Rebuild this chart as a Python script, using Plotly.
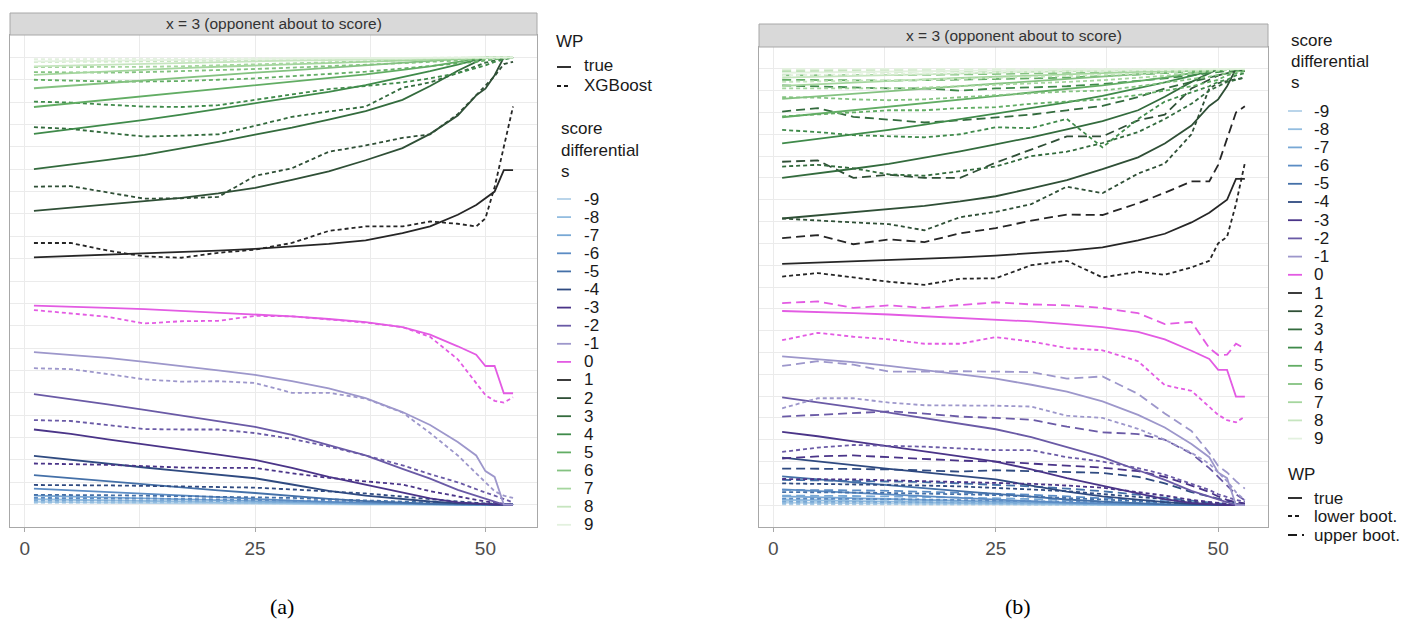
import plotly.graph_objects as go

W, H = 1416, 624

# ---------------- data ----------------
X = [1, 5, 9, 13, 17, 21, 25, 29, 33, 37, 41, 44, 47, 49, 50, 51, 52, 53]
SCORES = list(range(-9, 10))
X_TICKS = [0, 25, 50]
STRIP_TEXT = "x = 3 (opponent about to score)"

COLORS = {
    -9: "#b3d1e8", -8: "#93bde0", -7: "#78a8d5", -6: "#5b8cc4", -5: "#4470a8",
    -4: "#2f4a80", -3: "#4a3488", -2: "#6a5aa6", -1: "#9d97cb", 0: "#e35be3",
    1: "#262626", 2: "#2f4f36", 3: "#336b3d", 4: "#3f8a4a", 5: "#62ad64",
    6: "#84c281", 7: "#a5d69e", 8: "#c6e5bf", 9: "#e3f1df",
}

TRUE_WP = {
    9: [0.991, 0.992, 0.993, 0.994, 0.995, 0.996, 0.997, 0.997, 0.998, 0.998, 0.999, 0.999, 1.0, 1.0, 1.0, 1.0, 1.0, 1.0],
    8: [0.980, 0.982, 0.984, 0.986, 0.988, 0.990, 0.991, 0.993, 0.994, 0.995, 0.997, 0.998, 0.999, 1.0, 1.0, 1.0, 1.0, 1.0],
    7: [0.961, 0.965, 0.969, 0.972, 0.976, 0.979, 0.982, 0.985, 0.988, 0.990, 0.993, 0.995, 0.998, 1.0, 1.0, 1.0, 1.0, 1.0],
    6: [0.931, 0.937, 0.943, 0.949, 0.955, 0.960, 0.966, 0.971, 0.977, 0.982, 0.988, 0.992, 0.996, 0.999, 1.0, 1.0, 1.0, 1.0],
    5: [0.889, 0.897, 0.905, 0.913, 0.921, 0.929, 0.937, 0.945, 0.953, 0.962, 0.972, 0.980, 0.990, 0.997, 1.0, 1.0, 1.0, 1.0],
    4: [0.829, 0.839, 0.849, 0.860, 0.872, 0.885, 0.898, 0.910, 0.923, 0.938, 0.955, 0.969, 0.984, 0.995, 1.0, 1.0, 1.0, 1.0],
    3: [0.750, 0.760, 0.771, 0.782, 0.796, 0.811, 0.827, 0.843, 0.861, 0.880, 0.905, 0.936, 0.970, 0.990, 1.0, 1.0, 1.0, 1.0],
    2: [0.657, 0.664, 0.671, 0.678, 0.686, 0.696, 0.708, 0.726, 0.745, 0.770, 0.797, 0.829, 0.870, 0.915, 0.930, 0.960, 1.0, 1.0],
    1: [0.553, 0.556, 0.558, 0.561, 0.564, 0.568, 0.572, 0.577, 0.583, 0.591, 0.607, 0.622, 0.648, 0.670, 0.686, 0.700, 0.748, 0.748],
    0: [0.445, 0.443, 0.440, 0.437, 0.433, 0.430, 0.426, 0.421, 0.415, 0.408, 0.397, 0.380, 0.354, 0.335, 0.310, 0.310, 0.249, 0.249],
    -1: [0.341, 0.335, 0.328, 0.319, 0.310, 0.300, 0.290, 0.276, 0.260, 0.238, 0.207, 0.178, 0.140, 0.110, 0.075, 0.062, 0.0, 0.0],
    -2: [0.247, 0.236, 0.224, 0.212, 0.199, 0.187, 0.174, 0.156, 0.133, 0.110, 0.080, 0.058, 0.033, 0.020, 0.014, 0.007, 0.0, 0.0],
    -3: [0.168, 0.158, 0.146, 0.135, 0.124, 0.112, 0.100, 0.082, 0.062, 0.044, 0.027, 0.014, 0.005, 0.002, 0.0, 0.0, 0.0, 0.0],
    -4: [0.109, 0.100, 0.092, 0.083, 0.075, 0.067, 0.059, 0.045, 0.031, 0.020, 0.012, 0.007, 0.003, 0.001, 0.0, 0.0, 0.0, 0.0],
    -5: [0.066, 0.059, 0.052, 0.045, 0.038, 0.032, 0.026, 0.019, 0.013, 0.008, 0.004, 0.002, 0.001, 0.0, 0.0, 0.0, 0.0, 0.0],
    -6: [0.036, 0.032, 0.028, 0.024, 0.020, 0.017, 0.013, 0.009, 0.006, 0.004, 0.002, 0.001, 0.0, 0.0, 0.0, 0.0, 0.0, 0.0],
    -7: [0.020, 0.018, 0.016, 0.013, 0.011, 0.009, 0.007, 0.005, 0.003, 0.002, 0.001, 0.0, 0.0, 0.0, 0.0, 0.0, 0.0, 0.0],
    -8: [0.012, 0.011, 0.009, 0.008, 0.007, 0.005, 0.004, 0.003, 0.002, 0.001, 0.0, 0.0, 0.0, 0.0, 0.0, 0.0, 0.0, 0.0],
    -9: [0.006, 0.005, 0.005, 0.004, 0.003, 0.003, 0.002, 0.001, 0.001, 0.0, 0.0, 0.0, 0.0, 0.0, 0.0, 0.0, 0.0, 0.0],
}

XGB_WP = {
    9: [0.996, 0.996, 0.996, 0.997, 0.997, 0.997, 0.998, 0.998, 0.998, 0.999, 0.999, 0.999, 1.0, 1.0, 1.0, 1.0, 1.0, 1.0],
    8: [0.990, 0.990, 0.990, 0.991, 0.992, 0.993, 0.994, 0.995, 0.996, 0.997, 0.998, 0.998, 0.999, 1.0, 1.0, 1.0, 1.0, 1.0],
    7: [0.978, 0.978, 0.978, 0.979, 0.980, 0.982, 0.984, 0.986, 0.988, 0.990, 0.993, 0.995, 0.997, 0.998, 0.999, 1.0, 1.0, 1.0],
    6: [0.967, 0.966, 0.966, 0.967, 0.969, 0.971, 0.974, 0.977, 0.980, 0.983, 0.987, 0.990, 0.993, 0.995, 0.996, 0.997, 0.998, 0.999],
    5: [0.950, 0.948, 0.946, 0.946, 0.947, 0.950, 0.953, 0.958, 0.963, 0.968, 0.975, 0.980, 0.986, 0.990, 0.993, 0.996, 0.998, 1.0],
    4: [0.901, 0.899, 0.894, 0.890, 0.889, 0.893, 0.905, 0.917, 0.929, 0.936, 0.944, 0.953, 0.965, 0.976, 0.982, 0.990, 0.995, 1.0],
    3: [0.844, 0.840, 0.831, 0.823, 0.825, 0.828, 0.847, 0.867, 0.879, 0.890, 0.932, 0.944, 0.965, 0.980, 0.988, 0.993, 0.998, 1.0],
    2: [0.711, 0.712, 0.698, 0.684, 0.685, 0.688, 0.735, 0.752, 0.789, 0.803, 0.820, 0.828, 0.873, 0.915, 0.935, 0.958, 0.985, 0.990],
    1: [0.585, 0.585, 0.568, 0.555, 0.552, 0.563, 0.570, 0.585, 0.612, 0.622, 0.622, 0.633, 0.628, 0.622, 0.640, 0.710, 0.800, 0.890],
    0: [0.435, 0.428, 0.420, 0.405, 0.410, 0.411, 0.422, 0.421, 0.414, 0.407, 0.397, 0.375, 0.325, 0.270, 0.245, 0.232, 0.228, 0.240],
    -1: [0.305, 0.303, 0.292, 0.280, 0.275, 0.276, 0.272, 0.250, 0.250, 0.237, 0.206, 0.160, 0.110, 0.070, 0.048, 0.030, 0.020, 0.015],
    -2: [0.189, 0.187, 0.178, 0.169, 0.168, 0.168, 0.160, 0.147, 0.130, 0.110, 0.088, 0.068, 0.050, 0.034, 0.027, 0.020, 0.012, 0.005],
    -3: [0.092, 0.091, 0.089, 0.086, 0.083, 0.082, 0.082, 0.070, 0.060, 0.052, 0.045, 0.030, 0.018, 0.010, 0.007, 0.004, 0.002, 0.0],
    -4: [0.044, 0.044, 0.043, 0.042, 0.041, 0.040, 0.038, 0.034, 0.030, 0.025, 0.018, 0.012, 0.007, 0.004, 0.003, 0.002, 0.001, 0.0],
    -5: [0.022, 0.022, 0.021, 0.020, 0.019, 0.018, 0.017, 0.015, 0.012, 0.010, 0.007, 0.005, 0.003, 0.002, 0.001, 0.001, 0.0, 0.0],
    -6: [0.015, 0.015, 0.014, 0.014, 0.013, 0.012, 0.011, 0.010, 0.008, 0.006, 0.004, 0.003, 0.002, 0.001, 0.001, 0.0, 0.0, 0.0],
    -7: [0.010, 0.010, 0.010, 0.009, 0.009, 0.008, 0.007, 0.006, 0.005, 0.004, 0.003, 0.002, 0.001, 0.001, 0.0, 0.0, 0.0, 0.0],
    -8: [0.006, 0.006, 0.006, 0.006, 0.005, 0.005, 0.004, 0.004, 0.003, 0.002, 0.002, 0.001, 0.001, 0.0, 0.0, 0.0, 0.0, 0.0],
    -9: [0.004, 0.004, 0.004, 0.003, 0.003, 0.003, 0.003, 0.002, 0.002, 0.001, 0.001, 0.001, 0.0, 0.0, 0.0, 0.0, 0.0, 0.0],
}

LOWER_BOOT = {
    9: [0.985, 0.986, 0.987, 0.988, 0.989, 0.990, 0.991, 0.992, 0.993, 0.994, 0.995, 0.996, 0.998, 0.999, 1.0, 1.0, 1.0, 1.0],
    8: [0.970, 0.971, 0.972, 0.973, 0.975, 0.977, 0.979, 0.981, 0.983, 0.986, 0.989, 0.992, 0.995, 0.997, 0.998, 0.999, 1.0, 1.0],
    7: [0.955, 0.955, 0.954, 0.955, 0.957, 0.960, 0.963, 0.966, 0.970, 0.974, 0.979, 0.984, 0.990, 0.994, 0.996, 0.998, 0.999, 1.0],
    6: [0.935, 0.934, 0.930, 0.928, 0.930, 0.935, 0.940, 0.944, 0.948, 0.950, 0.960, 0.968, 0.976, 0.982, 0.986, 0.990, 0.994, 0.997],
    5: [0.891, 0.895, 0.900, 0.905, 0.905, 0.910, 0.912, 0.920, 0.925, 0.930, 0.940, 0.950, 0.960, 0.970, 0.975, 0.985, 0.990, 0.995],
    4: [0.860, 0.855, 0.848, 0.845, 0.843, 0.850, 0.866, 0.864, 0.885, 0.820, 0.885, 0.925, 0.945, 0.960, 0.970, 0.975, 0.985, 0.990],
    3: [0.776, 0.780, 0.772, 0.758, 0.755, 0.765, 0.776, 0.800, 0.810, 0.830, 0.855, 0.885, 0.920, 0.950, 0.960, 0.970, 0.975, 0.980],
    2: [0.657, 0.652, 0.648, 0.644, 0.630, 0.660, 0.672, 0.690, 0.730, 0.715, 0.760, 0.783, 0.850, 0.955, 0.967, 0.972, 0.976, 0.980],
    1: [0.524, 0.532, 0.522, 0.512, 0.505, 0.519, 0.520, 0.550, 0.560, 0.522, 0.535, 0.528, 0.545, 0.560, 0.600, 0.615, 0.690, 0.784],
    0: [0.378, 0.395, 0.386, 0.380, 0.370, 0.370, 0.385, 0.375, 0.360, 0.355, 0.330, 0.275, 0.262, 0.225, 0.207, 0.195, 0.190, 0.203],
    -1: [0.222, 0.245, 0.245, 0.235, 0.229, 0.229, 0.228, 0.226, 0.205, 0.200, 0.175, 0.150, 0.120, 0.095, 0.075, 0.055, 0.030, 0.011],
    -2: [0.122, 0.132, 0.138, 0.136, 0.134, 0.130, 0.126, 0.126, 0.110, 0.100, 0.085, 0.070, 0.050, 0.035, 0.025, 0.018, 0.012, 0.008],
    -3: [0.060, 0.060, 0.059, 0.057, 0.055, 0.053, 0.052, 0.049, 0.045, 0.040, 0.030, 0.022, 0.012, 0.007, 0.005, 0.003, 0.002, 0.002],
    -4: [0.050, 0.049, 0.048, 0.047, 0.045, 0.043, 0.040, 0.036, 0.032, 0.026, 0.020, 0.014, 0.008, 0.005, 0.003, 0.002, 0.001, 0.0],
    -5: [0.030, 0.030, 0.029, 0.028, 0.027, 0.025, 0.023, 0.020, 0.017, 0.013, 0.009, 0.006, 0.004, 0.002, 0.001, 0.001, 0.0, 0.0],
    -6: [0.015, 0.015, 0.015, 0.014, 0.013, 0.012, 0.011, 0.010, 0.008, 0.006, 0.004, 0.003, 0.002, 0.001, 0.001, 0.0, 0.0, 0.0],
    -7: [0.008, 0.008, 0.008, 0.007, 0.007, 0.006, 0.006, 0.005, 0.004, 0.003, 0.002, 0.002, 0.001, 0.0, 0.0, 0.0, 0.0, 0.0],
    -8: [0.004, 0.004, 0.004, 0.004, 0.003, 0.003, 0.003, 0.002, 0.002, 0.001, 0.001, 0.001, 0.0, 0.0, 0.0, 0.0, 0.0, 0.0],
    -9: [0.002, 0.002, 0.002, 0.002, 0.002, 0.002, 0.001, 0.001, 0.001, 0.001, 0.0, 0.0, 0.0, 0.0, 0.0, 0.0, 0.0, 0.0],
}

UPPER_BOOT = {
    9: [1.0, 1.0, 1.0, 1.0, 1.0, 1.0, 1.0, 1.0, 1.0, 1.0, 1.0, 1.0, 1.0, 1.0, 1.0, 1.0, 1.0, 1.0],
    8: [0.997, 0.997, 0.997, 0.998, 0.998, 0.998, 0.998, 0.999, 0.999, 0.999, 0.999, 1.0, 1.0, 1.0, 1.0, 1.0, 1.0, 1.0],
    7: [0.993, 0.993, 0.993, 0.994, 0.994, 0.995, 0.995, 0.996, 0.996, 0.997, 0.998, 0.998, 0.999, 1.0, 1.0, 1.0, 1.0, 1.0],
    6: [0.985, 0.985, 0.985, 0.986, 0.986, 0.987, 0.988, 0.989, 0.990, 0.992, 0.994, 0.995, 0.997, 0.998, 0.999, 1.0, 1.0, 1.0],
    5: [0.975, 0.974, 0.973, 0.973, 0.974, 0.975, 0.976, 0.978, 0.980, 0.983, 0.987, 0.990, 0.993, 0.996, 0.997, 0.998, 0.999, 1.0],
    4: [0.962, 0.960, 0.958, 0.955, 0.955, 0.950, 0.955, 0.958, 0.960, 0.965, 0.972, 0.978, 0.985, 0.990, 0.993, 0.996, 0.998, 1.0],
    3: [0.902, 0.910, 0.890, 0.883, 0.877, 0.882, 0.888, 0.895, 0.905, 0.915, 0.935, 0.955, 0.970, 0.980, 0.985, 0.990, 0.995, 0.997],
    2: [0.787, 0.790, 0.750, 0.757, 0.750, 0.750, 0.785, 0.815, 0.845, 0.845, 0.882, 0.895, 0.955, 0.975, 0.985, 0.990, 0.995, 0.995],
    1: [0.612, 0.619, 0.598, 0.609, 0.603, 0.623, 0.635, 0.652, 0.666, 0.665, 0.692, 0.716, 0.742, 0.742, 0.780, 0.840, 0.900, 0.914],
    0: [0.463, 0.467, 0.452, 0.458, 0.452, 0.458, 0.465, 0.460, 0.458, 0.452, 0.440, 0.415, 0.420, 0.360, 0.344, 0.345, 0.370, 0.359],
    -1: [0.319, 0.330, 0.322, 0.306, 0.306, 0.307, 0.306, 0.305, 0.290, 0.295, 0.255, 0.210, 0.170, 0.120, 0.090, 0.075, 0.055, 0.038],
    -2: [0.203, 0.207, 0.212, 0.215, 0.210, 0.203, 0.200, 0.196, 0.180, 0.167, 0.163, 0.150, 0.118, 0.085, 0.065, 0.045, 0.025, 0.011],
    -3: [0.107, 0.112, 0.114, 0.110, 0.107, 0.102, 0.100, 0.095, 0.090, 0.086, 0.078, 0.065, 0.045, 0.030, 0.020, 0.012, 0.007, 0.004],
    -4: [0.084, 0.084, 0.083, 0.082, 0.080, 0.077, 0.080, 0.078, 0.077, 0.074, 0.065, 0.050, 0.030, 0.020, 0.014, 0.010, 0.006, 0.003],
    -5: [0.058, 0.057, 0.056, 0.055, 0.053, 0.050, 0.047, 0.043, 0.038, 0.032, 0.024, 0.017, 0.010, 0.006, 0.004, 0.003, 0.002, 0.001],
    -6: [0.035, 0.035, 0.034, 0.033, 0.031, 0.029, 0.027, 0.024, 0.020, 0.016, 0.011, 0.008, 0.005, 0.003, 0.002, 0.001, 0.001, 0.0],
    -7: [0.022, 0.022, 0.021, 0.020, 0.019, 0.018, 0.016, 0.014, 0.012, 0.009, 0.006, 0.004, 0.003, 0.002, 0.001, 0.001, 0.0, 0.0],
    -8: [0.013, 0.013, 0.013, 0.012, 0.011, 0.010, 0.009, 0.008, 0.007, 0.005, 0.004, 0.003, 0.002, 0.001, 0.001, 0.0, 0.0, 0.0],
    -9: [0.008, 0.008, 0.008, 0.007, 0.007, 0.006, 0.006, 0.005, 0.004, 0.003, 0.002, 0.002, 0.001, 0.001, 0.0, 0.0, 0.0, 0.0],
}

# ---------------- styling ----------------
SANS = "Liberation Sans, Arial, sans-serif"
SERIF = "Liberation Serif, Times New Roman, serif"
LW = 1.8
DOT = "4px,3px"
DASH = "9px,5px"
LEG_A = 17
LEG_B = 17

fig = go.Figure()

# panel (a): true vs XGBoost
for s in SCORES:
    fig.add_trace(go.Scatter(x=X, y=TRUE_WP[s], mode="lines", xaxis="x", yaxis="y",
                             line=dict(color=COLORS[s], width=LW), showlegend=False,
                             hoverinfo="skip"))
    fig.add_trace(go.Scatter(x=X, y=XGB_WP[s], mode="lines", xaxis="x", yaxis="y",
                             line=dict(color=COLORS[s], width=LW, dash=DOT), showlegend=False,
                             hoverinfo="skip"))

# panel (b): true with bootstrap bounds
for s in SCORES:
    fig.add_trace(go.Scatter(x=X, y=TRUE_WP[s], mode="lines", xaxis="x2", yaxis="y2",
                             line=dict(color=COLORS[s], width=LW), showlegend=False,
                             hoverinfo="skip"))
    fig.add_trace(go.Scatter(x=X, y=LOWER_BOOT[s], mode="lines", xaxis="x2", yaxis="y2",
                             line=dict(color=COLORS[s], width=LW, dash=DOT), showlegend=False,
                             hoverinfo="skip"))
    fig.add_trace(go.Scatter(x=X, y=UPPER_BOOT[s], mode="lines", xaxis="x2", yaxis="y2",
                             line=dict(color=COLORS[s], width=LW, dash=DASH), showlegend=False,
                             hoverinfo="skip"))


def px(xp):
    return xp / W


def py(yp):
    return 1 - yp / H


# panel rectangles in pixels
PA = dict(l=10, r=537, t=35, b=527, st=13)
PB = dict(l=759, r=1268, t=47, b=527, st=24)

GRID = "#ebebeb"
BORDER = "#a8a8a8"


def xaxis_cfg(p):
    return dict(domain=[px(p["l"]), px(p["r"])], range=[-1.6, 55.6], tickmode="array",
                tickvals=X_TICKS, ticktext=[str(v) for v in X_TICKS], ticks="outside",
                ticklen=4, tickcolor=BORDER, tickwidth=1,
                tickfont=dict(size=19, color="#4d4d4d", family=SANS),
                showgrid=True, gridcolor=GRID, gridwidth=1,
                minor=dict(tickvals=[12.5, 37.5], showgrid=True, gridcolor=GRID, gridwidth=1, ticks=""),
                showline=True, mirror=True, linecolor=BORDER, linewidth=1, zeroline=False,
                fixedrange=True)


def yaxis_cfg(p, anchor):
    return dict(domain=[py(p["b"]), py(p["t"])], range=[-0.05, 1.05], tickmode="linear",
                tick0=0, dtick=0.05, showticklabels=False, ticks="",
                showgrid=True, gridcolor=GRID, gridwidth=1,
                showline=True, mirror=True, linecolor=BORDER, linewidth=1, zeroline=False,
                anchor=anchor, fixedrange=True)


shapes = []
annotations = []

# facet strips
for p in (PA, PB):
    shapes.append(dict(type="rect", xref="paper", yref="paper",
                       x0=px(p["l"]), x1=px(p["r"]), y0=py(p["t"]), y1=py(p["st"]),
                       fillcolor="#d9d9d9", line=dict(color=BORDER, width=1), layer="above"))
    annotations.append(dict(xref="paper", yref="paper", x=px((p["l"] + p["r"]) / 2),
                            y=py((p["t"] + p["st"]) / 2), text=STRIP_TEXT, showarrow=False,
                            xanchor="center", yanchor="middle", borderpad=0,
                            font=dict(size=15.5, color="#333333", family=SANS)))


def legend_text(x, y, text, size):
    annotations.append(dict(xref="paper", yref="paper", x=px(x), y=py(y), text=text,
                            showarrow=False, xanchor="left", yanchor="middle", borderpad=0,
                            font=dict(size=size, color="#1a1a1a", family=SANS)))


def legend_key(x0, x1, y, color, dash="solid"):
    shapes.append(dict(type="line", xref="paper", yref="paper", x0=px(x0), x1=px(x1),
                       y0=py(y), y1=py(y), line=dict(color=color, width=LW, dash=dash)))


# legend (a)
legend_text(555, 42, "WP", LEG_A)
legend_key(557, 571, 67, "#1a1a1a")
legend_text(583, 66, "true", LEG_A)
legend_key(557, 571, 86, "#1a1a1a", DOT)
legend_text(583, 86, "XGBoost", LEG_A)
legend_text(560, 129, "score", LEG_A)
legend_text(560, 150, "differential", LEG_A)
legend_text(560, 171, "s", LEG_A)
for i, s in enumerate(SCORES):
    yy = 199 + 18.1 * i
    legend_key(557, 571, yy, COLORS[s])
    legend_text(583, yy, str(s), LEG_A)

# legend (b)
legend_text(1290, 40, "score", LEG_B)
legend_text(1290, 62, "differential", LEG_B)
legend_text(1290, 83, "s", LEG_B)
for i, s in enumerate(SCORES):
    yy = 111 + 18.2 * i
    legend_key(1288, 1302, yy, COLORS[s])
    legend_text(1313, yy, str(s), LEG_B)
legend_text(1287, 474, "WP", LEG_B)
legend_key(1288, 1302, 498, "#1a1a1a")
legend_text(1313, 498, "true", LEG_B)
legend_key(1288, 1302, 516, "#1a1a1a", DOT)
legend_text(1313, 516, "lower boot.", LEG_B)
legend_key(1288, 1304, 535, "#1a1a1a", DASH)
legend_text(1313, 535, "upper boot.", LEG_B)

# captions
for cx, txt in ((282, "(a)"), (1018, "(b)")):
    annotations.append(dict(xref="paper", yref="paper", x=px(cx), y=py(606), text=txt,
                            showarrow=False, xanchor="center", yanchor="middle",
                            font=dict(size=22, color="#000000", family=SERIF)))

fig.update_layout(
    width=W, height=H, autosize=False,
    margin=dict(l=0, r=0, t=0, b=0, pad=0),
    paper_bgcolor="white", plot_bgcolor="white",
    showlegend=False,
    xaxis=xaxis_cfg(PA), yaxis=yaxis_cfg(PA, "x"),
    xaxis2=xaxis_cfg(PB), yaxis2=yaxis_cfg(PB, "x2"),
    shapes=shapes, annotations=annotations,
)
fig.update_layout(xaxis=dict(anchor="y"), xaxis2=dict(anchor="y2"))

fig.write_html("out.html", post_script="document.body.style.margin='0';document.body.style.overflow='hidden';",
               config={"displayModeBar": False})
